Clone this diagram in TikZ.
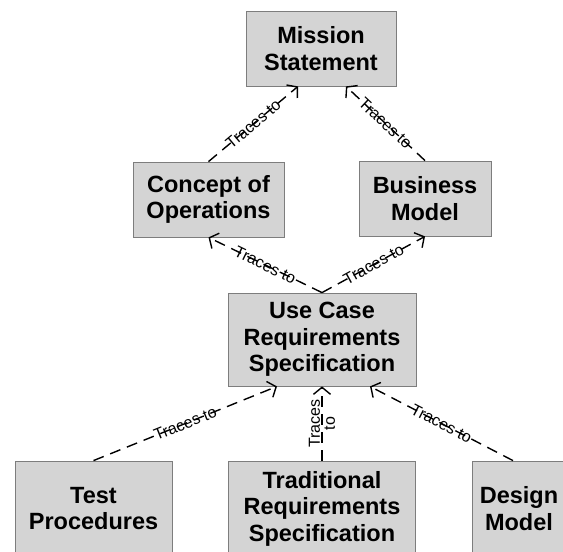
\documentclass[tikz,border=0pt]{standalone}
\usepackage{fontspec}
\setmainfont{Liberation Sans}
\usepackage{xcolor}
\definecolor{boxfill}{RGB}{212, 212, 212}
\definecolor{boxline}{RGB}{125, 125, 125}
\usetikzlibrary{arrows.meta}

\begin{document}
\begin{tikzpicture}[
  x=1pt, y=-1pt,
  artifact/.style={rectangle, draw=boxline, fill=boxfill, line width=0.8pt, inner sep=0pt, align=center,
    font=\bfseries\fontsize{23.5}{26.5}\selectfont},
  trace/.style={line width=1.4pt, dash pattern=on 11pt off 7pt, -{Straight Barb[length=7pt, width=17pt, line width=1.4pt]}},
  tlabel/.style={midway, sloped, inner sep=1pt, font=\fontsize{16}{17}\selectfont}
]
  \useasboundingbox (0,0) rectangle (563,552);
  \clip (0,0) rectangle (563,552);

  \node[artifact, minimum width=150pt, minimum height=75pt] (mission) at (321,48.5) {Mission\\Statement};
  \node[artifact, minimum width=151pt, minimum height=75pt] (conops) at (208.5,199.5) {Concept of\\Operations};
  \node[artifact, minimum width=132pt, minimum height=75pt] (business) at (425,198.5) {Business\\Model};
  \node[artifact, minimum width=188pt, minimum height=93pt] (usecase) at (322,339.5) {Use Case\\Requirements\\Specification};
  \node[artifact, minimum width=157pt, minimum height=95pt] (testproc) at (93.5,508.5) {Test\\Procedures};
  \node[artifact, minimum width=187pt, minimum height=95pt] (tradreq) at (322,508.5) {Traditional\\Requirements\\Specification};
  \node[artifact, minimum width=94pt, minimum height=95pt] (design) at (519,508.5) {Design\\Model};

  \draw[trace] (conops.north) -- ([xshift=-23pt]mission.south) node[tlabel] {Traces to};
  \draw[trace] (business.north) -- ([xshift=25pt]mission.south) node[tlabel] {Traces to};
  \draw[trace] (usecase.north) -- (conops.south) node[tlabel] {Traces to};
  \draw[trace] (usecase.north) -- (business.south) node[tlabel] {Traces to};
  \draw[trace] (testproc.north) -- ([xshift=-45pt]usecase.south) node[tlabel] {Traces to};
  \draw[trace] (tradreq.north) -- (usecase.south) node[midway, rotate=90, align=center, inner sep=1pt,
    font=\fontsize{16}{15}\selectfont] {Traces\\to};
  \draw[trace] ([xshift=-6pt]design.north) -- ([xshift=48pt]usecase.south) node[tlabel] {Traces to};
\end{tikzpicture}
\end{document}
